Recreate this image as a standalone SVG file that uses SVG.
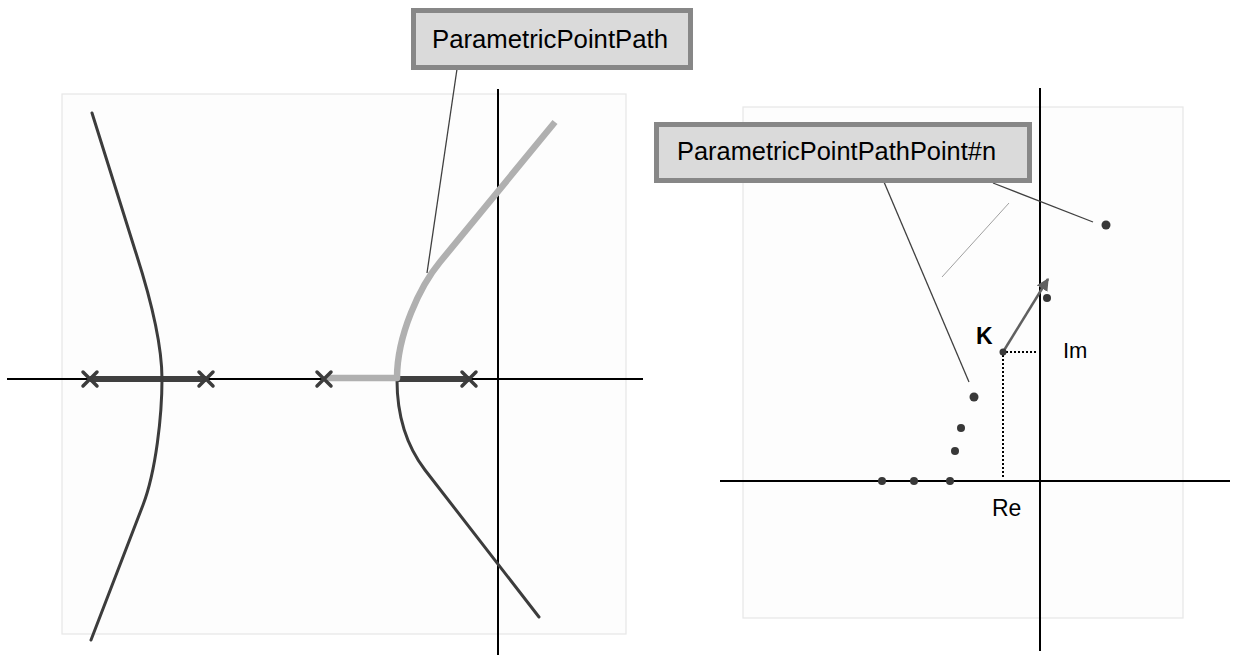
<svg xmlns="http://www.w3.org/2000/svg" width="1236" height="655" viewBox="0 0 1236 655">
<defs>
<style>
.panel{fill:#fdfdfd;stroke:#e6e6e6;stroke-width:1.2}
.axis{stroke:#000;stroke-width:2;fill:none}
.locus{stroke:#3c3c3c;stroke-width:3;fill:none;stroke-linecap:round}
.thick{stroke:#404040;stroke-width:6;fill:none}
.gpath{stroke:#b0b0b0;stroke-width:6.5;fill:none;stroke-linejoin:round}
.cross{stroke:#3c3c3c;stroke-width:3.5;stroke-linecap:round}
.box{fill:#dadada;stroke:#878787;stroke-width:5}
.lbl{font-family:"Liberation Sans",Arial,sans-serif;fill:#000}
.lead{stroke:#404040;stroke-width:1.3;fill:none}
.dot{fill:#383838}
.dotted{stroke:#000;stroke-width:2;stroke-dasharray:2,2;fill:none}
</style>
<marker id="ah" viewBox="0 0 10 10" refX="9" refY="5" markerWidth="5" markerHeight="5" orient="auto" markerUnits="strokeWidth">
<path d="M0,0 L10,5 L0,10 z" fill="#606060"/>
</marker>
</defs>
<rect width="1236" height="655" fill="#fff"/>
<g id="left-plot">
<rect class="panel" x="62" y="94" width="564" height="540"/>
<line class="axis" x1="7" y1="379" x2="643" y2="379"/>
<line class="axis" x1="498" y1="89" x2="498" y2="655"/>
<line class="thick" x1="90" y1="379" x2="206" y2="379"/>
<line class="thick" x1="398" y1="379" x2="469" y2="379"/>
<path class="locus" d="M92,113 L135,250 C149,293 162,340 162,379 C162,415 156,471 143,505 L91,640"/>
<path class="locus" d="M397,380 C397,420 409,449 425,470 L539,617"/>
<path class="gpath" d="M326,378 L397,378 C397,335 420,286 440,262 L555,122"/>
<g id="crosses">
<path class="cross" d="M83,372 L97,386 M97,372 L83,386"/>
<path class="cross" d="M199,372 L213,386 M213,372 L199,386"/>
<path class="cross" d="M317,372 L331,386 M331,372 L317,386"/>
<path class="cross" d="M462,372 L476,386 M476,372 L462,386"/>
</g>
</g>
<g id="right-plot">
<rect class="panel" x="743" y="107" width="440" height="511"/>
<line class="axis" x1="720" y1="481" x2="1230" y2="481"/>
<line class="axis" x1="1040" y1="88" x2="1040" y2="651"/>
<line x1="942" y1="277" x2="1009" y2="203" stroke="#a0a0a0" stroke-width="1"/>
<polyline class="dotted" points="1003,477 1003,352 1037,352"/>
<line x1="1003" y1="352" x2="1048" y2="279" stroke="#606060" stroke-width="2.5" marker-end="url(#ah)"/>
<g id="points">
<circle class="dot" cx="882" cy="481" r="4"/>
<circle class="dot" cx="914" cy="481" r="4"/>
<circle class="dot" cx="950" cy="481" r="4"/>
<circle class="dot" cx="955" cy="451" r="4"/>
<circle class="dot" cx="961" cy="428" r="4"/>
<circle class="dot" cx="974" cy="397" r="4.5"/>
<circle class="dot" cx="1003" cy="352" r="3.5"/>
<circle class="dot" cx="1047" cy="298" r="4"/>
<circle class="dot" cx="1106" cy="225" r="4.5"/>
</g>
<text class="lbl" x="976" y="344" font-size="23" font-weight="bold">K</text>
<text class="lbl" x="1063" y="358" font-size="22">Im</text>
<text class="lbl" x="992" y="516" font-size="23">Re</text>
</g>
<g id="connectors">
<line class="lead" x1="457" y1="69" x2="427" y2="273"/>
<line class="lead" x1="884" y1="182" x2="969" y2="382"/>
<line class="lead" x1="993" y1="183" x2="1093" y2="222"/>
</g>
<g id="node-path">
<rect class="box" x="413.5" y="10.5" width="277" height="57"/>
<text class="lbl" x="432" y="48" font-size="25" textLength="236" lengthAdjust="spacingAndGlyphs">ParametricPointPath</text>
</g>
<g id="node-point">
<rect class="box" x="656.5" y="124.5" width="373" height="56"/>
<text class="lbl" x="677" y="160" font-size="25" textLength="319" lengthAdjust="spacingAndGlyphs">ParametricPointPathPoint#n</text>
</g>
</svg>
